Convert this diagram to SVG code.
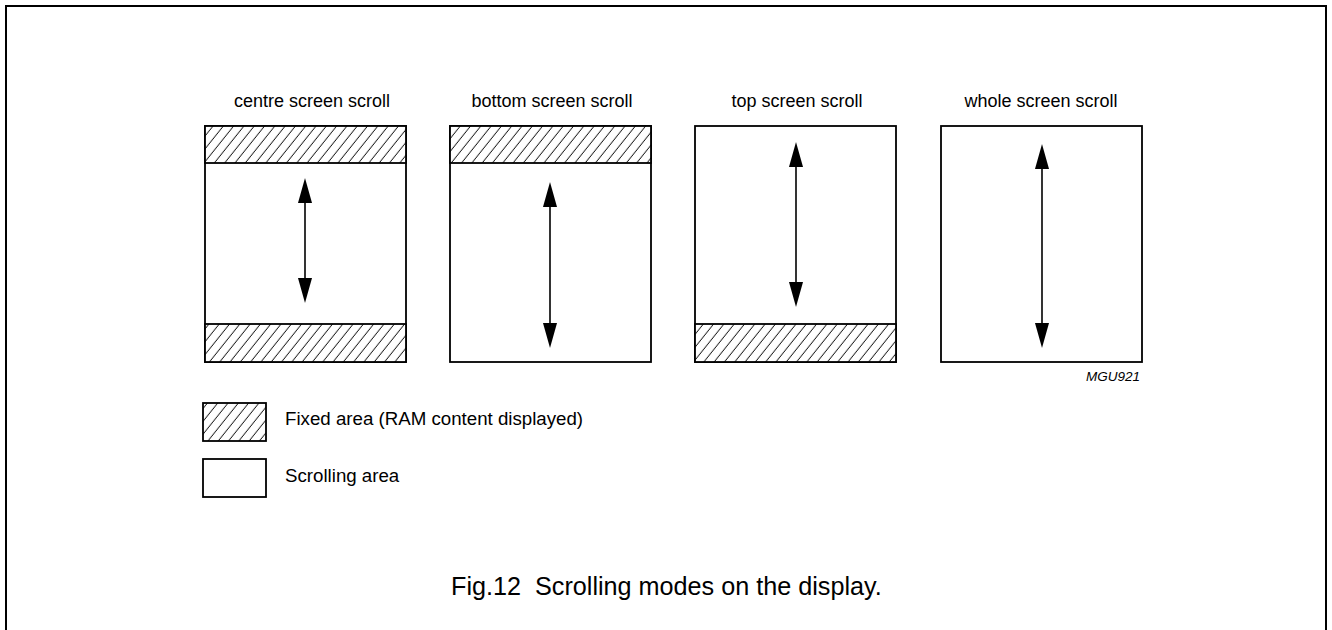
<svg xmlns="http://www.w3.org/2000/svg" width="1332" height="630" viewBox="0 0 1332 630">
<style>
text{font-family:"Liberation Sans",Arial,sans-serif;fill:#000}
.title{font-size:18px;text-anchor:middle}
.leg{font-size:18.7px}
.cap{font-size:25.2px;white-space:pre}
.code{font-size:13.5px;font-style:italic;text-anchor:end}
.box{fill:#fff;stroke:#000;stroke-width:1.8}
.hatch{fill:url(#hatch);stroke:#000;stroke-width:1.8}
.arr{stroke:#000;stroke-width:1.6;fill:none;marker-start:url(#head);marker-end:url(#head)}
</style>
<defs>
<pattern id="hatch" patternUnits="userSpaceOnUse" width="10.3" height="20" patternTransform="skewX(-38.7)">
<rect width="10.3" height="20" fill="#fff"/>
<line x1="5" y1="0" x2="5" y2="20" stroke="#000" stroke-width="1"/>
</pattern>
<marker id="head" markerUnits="userSpaceOnUse" viewBox="0 0 25 14" markerWidth="25" markerHeight="14" refX="0" refY="7" orient="auto-start-reverse">
<path d="M0,0 L25,7 L0,14 Z" fill="#000"/>
</marker>
</defs>
<rect width="1332" height="630" fill="#fff"/>
<path d="M6,640 V6 H1326 V640" fill="none" stroke="#000" stroke-width="2"/>

<g id="centre">
<text class="title" x="312" y="107">centre screen scroll</text>
<rect class="box" x="205" y="126" width="201" height="236"/>
<rect class="hatch" x="205" y="126" width="201" height="37"/>
<rect class="hatch" x="205" y="324" width="201" height="38"/>
</g>
<g id="bottom">
<text class="title" x="552" y="107">bottom screen scroll</text>
<rect class="box" x="450" y="126" width="201" height="236"/>
<rect class="hatch" x="450" y="126" width="201" height="37"/>
</g>
<g id="top">
<text class="title" x="797" y="107">top screen scroll</text>
<rect class="box" x="695" y="126" width="201" height="236"/>
<rect class="hatch" x="695" y="324" width="201" height="38"/>
</g>
<g id="whole">
<text class="title" x="1041" y="107">whole screen scroll</text>
<rect class="box" x="941" y="126" width="201" height="236"/>
</g>

<g id="connectors">
<line class="arr" x1="305" y1="203" x2="305" y2="278"/>
<line class="arr" x1="550" y1="207" x2="550" y2="323"/>
<line class="arr" x1="796" y1="167" x2="796" y2="282"/>
<line class="arr" x1="1042" y1="169" x2="1042" y2="323"/>
</g>

<text class="code" x="1140" y="381">MGU921</text>

<g id="legend-fixed">
<rect class="hatch" x="203" y="403" width="63" height="38"/>
<text class="leg" x="285" y="425">Fixed area (RAM content displayed)</text>
</g>
<g id="legend-scroll">
<rect class="box" x="203" y="459" width="63" height="38"/>
<text class="leg" x="285" y="482">Scrolling area</text>
</g>

<text class="cap" x="451" y="595" xml:space="preserve">Fig.12  Scrolling modes on the display.</text>
</svg>
